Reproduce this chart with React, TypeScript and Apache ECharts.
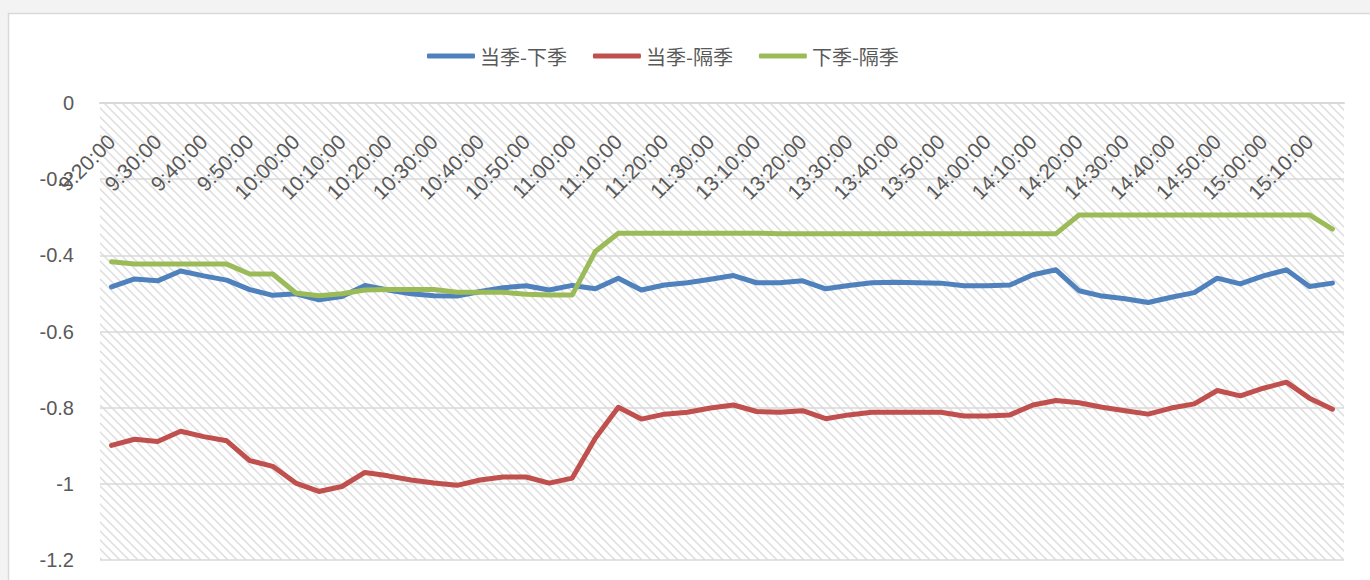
import React, { useEffect, useRef } from 'react';
import * as echarts from 'echarts';

const categories = [
  '9:20:00', '9:25:00', '9:30:00', '9:35:00', '9:40:00', '9:45:00', '9:50:00', '9:55:00',
  '10:00:00', '10:05:00', '10:10:00', '10:15:00', '10:20:00', '10:25:00', '10:30:00', '10:35:00',
  '10:40:00', '10:45:00', '10:50:00', '10:55:00', '11:00:00', '11:05:00', '11:10:00', '11:15:00',
  '11:20:00', '11:25:00', '11:30:00', '13:05:00', '13:10:00', '13:15:00', '13:20:00', '13:25:00',
  '13:30:00', '13:35:00', '13:40:00', '13:45:00', '13:50:00', '13:55:00', '14:00:00', '14:05:00',
  '14:10:00', '14:15:00', '14:20:00', '14:25:00', '14:30:00', '14:35:00', '14:40:00', '14:45:00',
  '14:50:00', '14:55:00', '15:00:00', '15:05:00', '15:10:00', '15:15:00',
];

const seriesNames = ['当季-下季', '当季-隔季', '下季-隔季'];

const nearMinusNext = [
  -0.483, -0.462, -0.467, -0.441, -0.454, -0.465, -0.490, -0.505, -0.501, -0.517,
  -0.508, -0.479, -0.491, -0.501, -0.506, -0.507, -0.495, -0.485, -0.480, -0.491,
  -0.479, -0.488, -0.460, -0.491, -0.478, -0.472, -0.463, -0.453, -0.472, -0.472,
  -0.467, -0.488, -0.479, -0.472, -0.471, -0.472, -0.473, -0.480, -0.480, -0.478,
  -0.451, -0.438, -0.493, -0.507, -0.514, -0.524, -0.510, -0.498, -0.460, -0.475,
  -0.454, -0.438, -0.482, -0.473,
];

const nearMinusFar = [
  -0.899, -0.883, -0.889, -0.862, -0.876, -0.887, -0.939, -0.954, -0.998, -1.020,
  -1.007, -0.970, -0.979, -0.990, -0.998, -1.004, -0.990, -0.982, -0.982, -0.998,
  -0.985, -0.880, -0.799, -0.830, -0.817, -0.812, -0.801, -0.793, -0.810, -0.812,
  -0.808, -0.829, -0.819, -0.812, -0.812, -0.812, -0.812, -0.822, -0.822, -0.819,
  -0.793, -0.781, -0.787, -0.799, -0.808, -0.817, -0.801, -0.790, -0.755, -0.769,
  -0.749, -0.733, -0.775, -0.804,
];

const nextMinusFar = [
  -0.417, -0.423, -0.423, -0.423, -0.423, -0.423, -0.449, -0.449, -0.499, -0.506,
  -0.501, -0.491, -0.490, -0.490, -0.490, -0.497, -0.497, -0.497, -0.502, -0.504,
  -0.504, -0.390, -0.342, -0.342, -0.342, -0.342, -0.342, -0.342, -0.342, -0.343,
  -0.343, -0.343, -0.343, -0.343, -0.343, -0.343, -0.343, -0.343, -0.343, -0.343,
  -0.343, -0.343, -0.294, -0.294, -0.294, -0.294, -0.294, -0.294, -0.294, -0.294,
  -0.294, -0.294, -0.294, -0.331,
];

const seriesColors = ['#4F81BD', '#C0504D', '#9BBB59'];

const Y_MIN = -1.2;
const Y_MAX = 0;
const Y_STEP = 0.2;

const LATIN = '"Liberation Sans", "Noto Sans CJK SC", sans-serif';
const CJK = '"Noto Sans CJK SC", "Liberation Sans", sans-serif';

function makeHatch(): string {
  const n = 9;
  const c = document.createElement('canvas');
  c.width = n;
  c.height = n;
  const ctx = c.getContext('2d');
  if (!ctx) return '';
  ctx.fillStyle = '#ffffff';
  ctx.fillRect(0, 0, n, n);
  for (let y = 0; y < n; y++) {
    for (let x = 0; x < n; x++) {
      const d = (((x - y) % n) + n) % n;
      if (d === 1) {
        ctx.fillStyle = '#dedede';
        ctx.fillRect(x, y, 1, 1);
      } else if (d === 0 || d === 2) {
        ctx.fillStyle = '#ececec';
        ctx.fillRect(x, y, 1, 1);
      }
    }
  }
  return c.toDataURL();
}

export default function App() {
  const ref = useRef<HTMLDivElement>(null);

  useEffect(() => {
    document.body.style.margin = '0';
    if (!ref.current) return;
    const chart = echarts.init(ref.current, null, { renderer: 'svg' });
    const hatch = makeHatch();
    const data = [nearMinusNext, nearMinusFar, nextMinusFar];

    chart.setOption({
      animation: false,
      backgroundColor: '#f3f3f3',
      graphic: [
        {
          type: 'rect',
          z: -10,
          silent: true,
          shape: { x: 8.5, y: 13.5, width: 1420, height: 620 },
          style: { fill: '#ffffff', stroke: '#d9d9d9', lineWidth: 1.5 },
        },
      ],
      legend: {
        top: 41,
        left: 422,
        icon: 'roundRect',
        itemWidth: 48,
        itemHeight: 5,
        itemGap: 26,
        textStyle: { fontSize: 20, color: '#595959', fontFamily: CJK },
        data: seriesNames,
      },
      grid: {
        left: 100,
        top: 103,
        right: 26,
        bottom: 20,
        show: true,
        borderWidth: 0,
        backgroundColor: hatch ? { image: hatch, repeat: 'repeat' } : '#ffffff',
        outerBoundsMode: 'none',
      },
      xAxis: {
        type: 'category',
        data: categories,
        position: 'top',
        boundaryGap: true,
        axisLine: { show: true, lineStyle: { color: '#d9d9d9', width: 2 } },
        axisTick: { show: false },
        axisLabel: {
          inside: true,
          rotate: 45,
          interval: 1,
          margin: 35,
          color: '#595959',
          fontSize: 21,
          fontFamily: LATIN,
        },
        splitLine: { show: false },
      },
      yAxis: {
        type: 'value',
        min: Y_MIN,
        max: Y_MAX,
        interval: Y_STEP,
        axisLine: { show: false },
        axisTick: { show: false },
        axisLabel: {
          margin: 26,
          color: '#595959',
          fontSize: 20,
          fontFamily: LATIN,
          formatter: (v: number) => String(Math.round(v * 10) / 10),
        },
        splitLine: { show: true, lineStyle: { color: '#d9d9d9', width: 1.5 } },
      },
      series: seriesNames.map((name, i) => ({
        name,
        type: 'line',
        data: data[i],
        symbol: 'none',
        smooth: false,
        color: seriesColors[i],
        lineStyle: { width: 5, color: seriesColors[i], cap: 'round', join: 'round' },
      })),
    });

    return () => {
      chart.dispose();
    };
  }, []);

  return <div ref={ref} style={{ width: 1370, height: 580 }} />;
}
